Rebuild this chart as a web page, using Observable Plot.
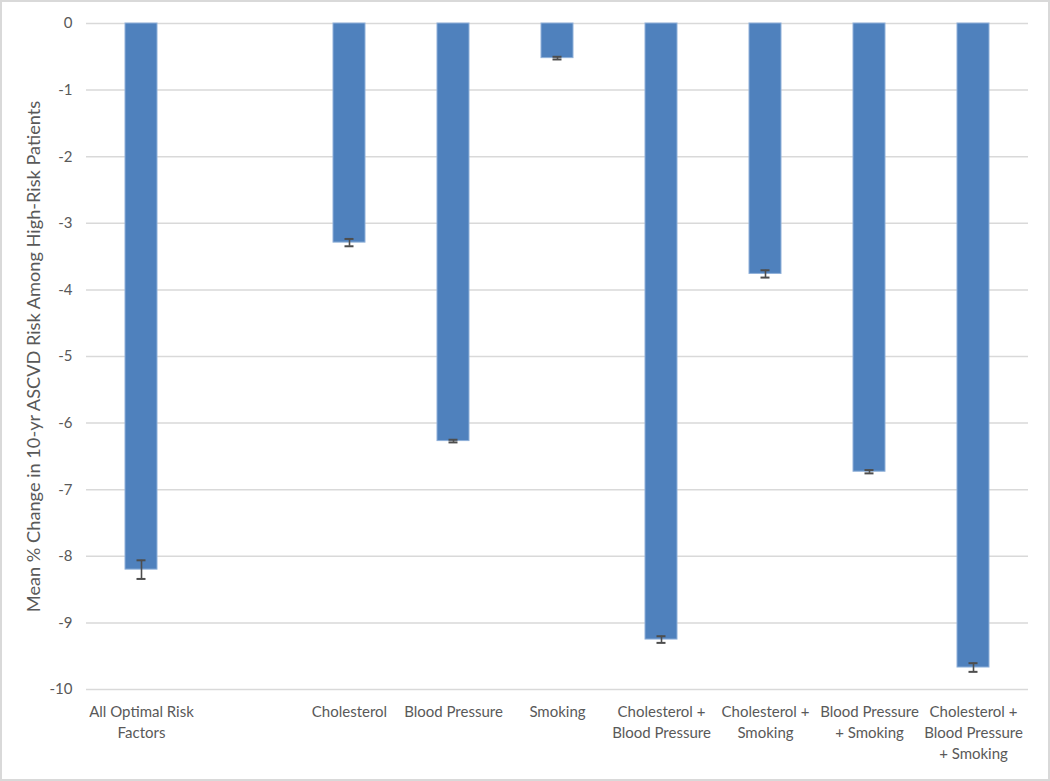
<!DOCTYPE html>
<html><head><meta charset="utf-8">
<script src="https://cdn.jsdelivr.net/npm/d3@7"></script>
<script src="https://cdn.jsdelivr.net/npm/@observablehq/plot@0.6"></script>
<style>
body{margin:0;background:#fff;}
#chart svg{display:block; outline:2px solid #d9d9d9; outline-offset:-2px;}
</style></head><body><div id="chart"></div>
<script>
// Category slots (the blank slot is an empty gap in the original chart)
const categories = [
  "All Optimal Risk\nFactors",
  " ",
  "Cholesterol",
  "Blood Pressure",
  "Smoking",
  "Cholesterol +\nBlood Pressure",
  "Cholesterol +\nSmoking",
  "Blood Pressure\n+ Smoking",
  "Cholesterol +\nBlood Pressure\n+ Smoking"
];
const barCategories = [
  "All Optimal Risk\nFactors",
  "Cholesterol",
  "Blood Pressure",
  "Smoking",
  "Cholesterol +\nBlood Pressure",
  "Cholesterol +\nSmoking",
  "Blood Pressure\n+ Smoking",
  "Cholesterol +\nBlood Pressure\n+ Smoking"
];
const values = [-8.20, -3.29, -6.27, -0.52, -9.25, -3.76, -6.73, -9.67];
const errors = [0.14, 0.055, 0.02, 0.02, 0.05, 0.055, 0.025, 0.065];
const yTicks = [0, -1, -2, -3, -4, -5, -6, -7, -8, -9, -10];
const yTitle = "Mean % Change in 10-yr ASCVD Risk Among High-Risk Patients";

const data = barCategories.map((c, i) => ({cat: c, value: values[i], err: errors[i]}));

const textColor = "#595959";
const chart = Plot.plot({
  width: 1050,
  height: 781,
  marginLeft: 86,
  marginRight: 22,
  marginTop: 23,
  marginBottom: 92,
  style: {fontFamily: "Lato, 'Open Sans', sans-serif", fontSize: "15px", background: "#fff"},
  x: {type: "band", domain: categories, paddingInner: 0.694, paddingOuter: 0.347, align: 0.5},
  y: {domain: [-10, 0]},
  marks: [
    Plot.ruleY(yTicks, {stroke: "#d9d9d9", strokeWidth: 1.5}),
    Plot.barY(data, {x: "cat", y: "value", fill: "#4f81bd", stroke: "#8fb0d9", strokeWidth: 1}),
    Plot.ruleX(data, {x: "cat", y1: d => d.value - d.err, y2: d => d.value + d.err, stroke: "#4d4d4d", strokeWidth: 1.6}),
    Plot.tickY(data, {x: "cat", y: d => d.value - d.err, stroke: "#4d4d4d", strokeWidth: 2, insetLeft: 11.5, insetRight: 11.5}),
    Plot.tickY(data, {x: "cat", y: d => d.value + d.err, stroke: "#4d4d4d", strokeWidth: 2, insetLeft: 11.5, insetRight: 11.5}),
    Plot.axisY({ticks: yTicks, tickSize: 0, tickPadding: 14, tickFormat: d => String(d), color: textColor, fontSize: 15, label: null}),
    Plot.axisX({tickSize: 0, tickPadding: 13, tickFormat: d => d, color: textColor, fontSize: 15, lineHeight: 1.4, label: null}),
    Plot.text([yTitle], {frameAnchor: "left", textAnchor: "middle", rotate: -90, dx: -52, fill: textColor, fontSize: 18.2})
  ]
});
document.getElementById("chart").appendChild(chart);
</script>
</body></html>
